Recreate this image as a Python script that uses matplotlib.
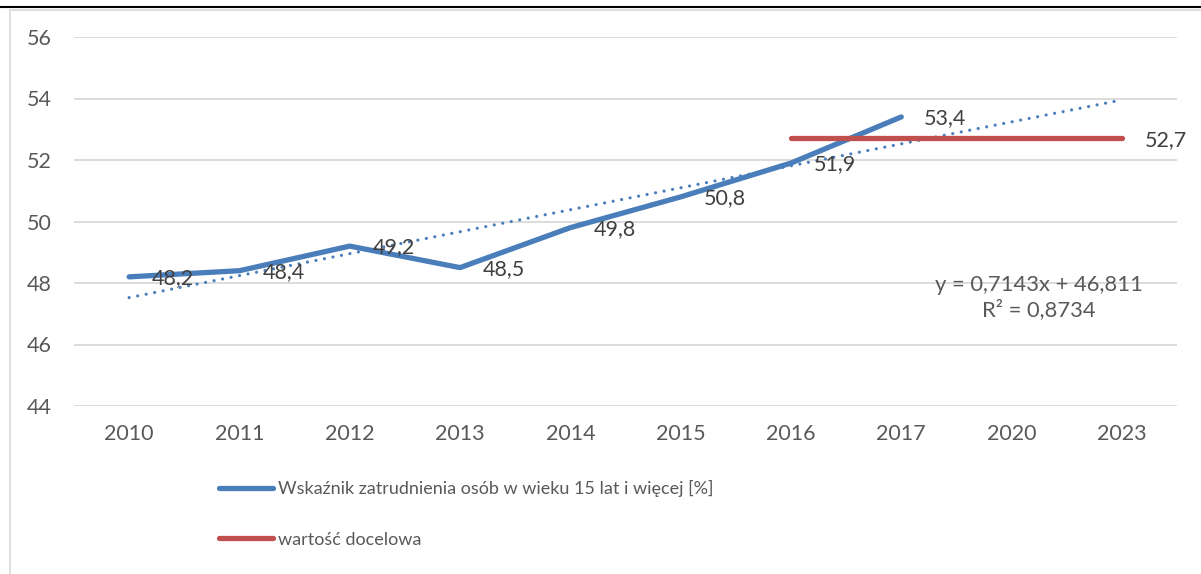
import numpy as np
import matplotlib.pyplot as plt
from matplotlib.lines import Line2D

plt.rcParams['font.family'] = ['Lato', 'DejaVu Sans']

years = ['2010', '2011', '2012', '2013', '2014', '2015', '2016', '2017', '2020', '2023']
employment = [48.2, 48.4, 49.2, 48.5, 49.8, 50.8, 51.9, 53.4]
target_years = ['2016', '2017', '2020', '2023']
target = [52.7, 52.7, 52.7, 52.7]

blue = '#4a7ebb'
red = '#c0504d'
grey_txt = '#595959'

W, H = 1201, 574
fig = plt.figure(figsize=(W / 100, H / 100), dpi=100)
ax = fig.add_axes([74 / W, 1 - 406 / H, (1177 - 74) / W, (406 - 37) / H])

x = np.arange(len(years))
xe = x[:len(employment)]
xt = np.array([years.index(y) for y in target_years])

ax.plot(xe, employment, color=blue, lw=3.8, solid_capstyle='round',
        solid_joinstyle='round', label='Wskaźnik zatrudnienia osób w wieku 15 lat i więcej [%]', zorder=3)
ax.plot(xt, target, color=red, lw=3.8, solid_capstyle='round', label='wartość docelowa', zorder=3)

# linear trend (Excel style, forecast to the end of axis)
n = np.arange(1, len(employment) + 1)
slope, intercept = np.polyfit(n, employment, 1)
fit = slope * n + intercept
r2 = 1 - np.sum((np.array(employment) - fit) ** 2) / np.sum((np.array(employment) - np.mean(employment)) ** 2)
nt = np.arange(1, len(years) + 1)
ax.plot(x, slope * nt + intercept, color=blue, lw=2.3, linestyle=(0, (0.01, 2.7)),
        dash_capstyle='round', zorder=2)

# data labels
for i, v in enumerate(employment):
    ax.annotate(f'{v:.1f}'.replace('.', ','), (xe[i], v), xytext=(16.5, -1),
                textcoords='offset points', va='center', ha='left',
                fontsize=15.5, color='#404040', zorder=4)
ax.annotate(f'{target[-1]:.1f}'.replace('.', ','), (xt[-1], target[-1]), xytext=(16.5, -1),
            textcoords='offset points', va='center', ha='left', fontsize=15.5, color='#404040')

eq = f'y = {slope:.4f}x + {intercept:.3f}'.replace('.', ',')
rr = f'R² = {r2:.4f}'.replace('.', ',')
ax.text(8.25, 47.52, eq + '\n' + rr, ha='center', va='center', fontsize=15.8,
        color=grey_txt, linespacing=1.22)

ax.set_xlim(-0.5, len(years) - 0.5)
ax.set_ylim(44, 56)
ax.set_yticks(range(44, 57, 2))
ax.set_xticks(x)
ax.set_xticklabels(years)
ax.tick_params(length=0, labelsize=15.5, labelcolor=grey_txt)
ax.tick_params(axis='y', pad=16)
ax.tick_params(axis='x', pad=13)
ax.grid(axis='y', color='#d9d9d9', lw=1.3)
ax.set_axisbelow(True)
for s in ax.spines.values():
    s.set_visible(False)

fig.legend(loc='center left', bbox_to_anchor=(210 / W, 1 - 514 / H), frameon=False,
           fontsize=13, handlelength=3.0, handletextpad=0.28, labelspacing=1.9,
           labelcolor=grey_txt, borderpad=0)

# chart frame
fig.add_artist(Line2D([0, 1], [1 - 7 / H, 1 - 7 / H], color='black', lw=1.5))
fig.add_artist(Line2D([10 / W, 1], [1 - 9.5 / H, 1 - 9.5 / H], color='#d9d9d9', lw=1.2))
fig.add_artist(Line2D([10 / W, 10 / W], [0, 1 - 9.5 / H], color='#d9d9d9', lw=1.2))

fig.savefig('out.png', dpi=100)
